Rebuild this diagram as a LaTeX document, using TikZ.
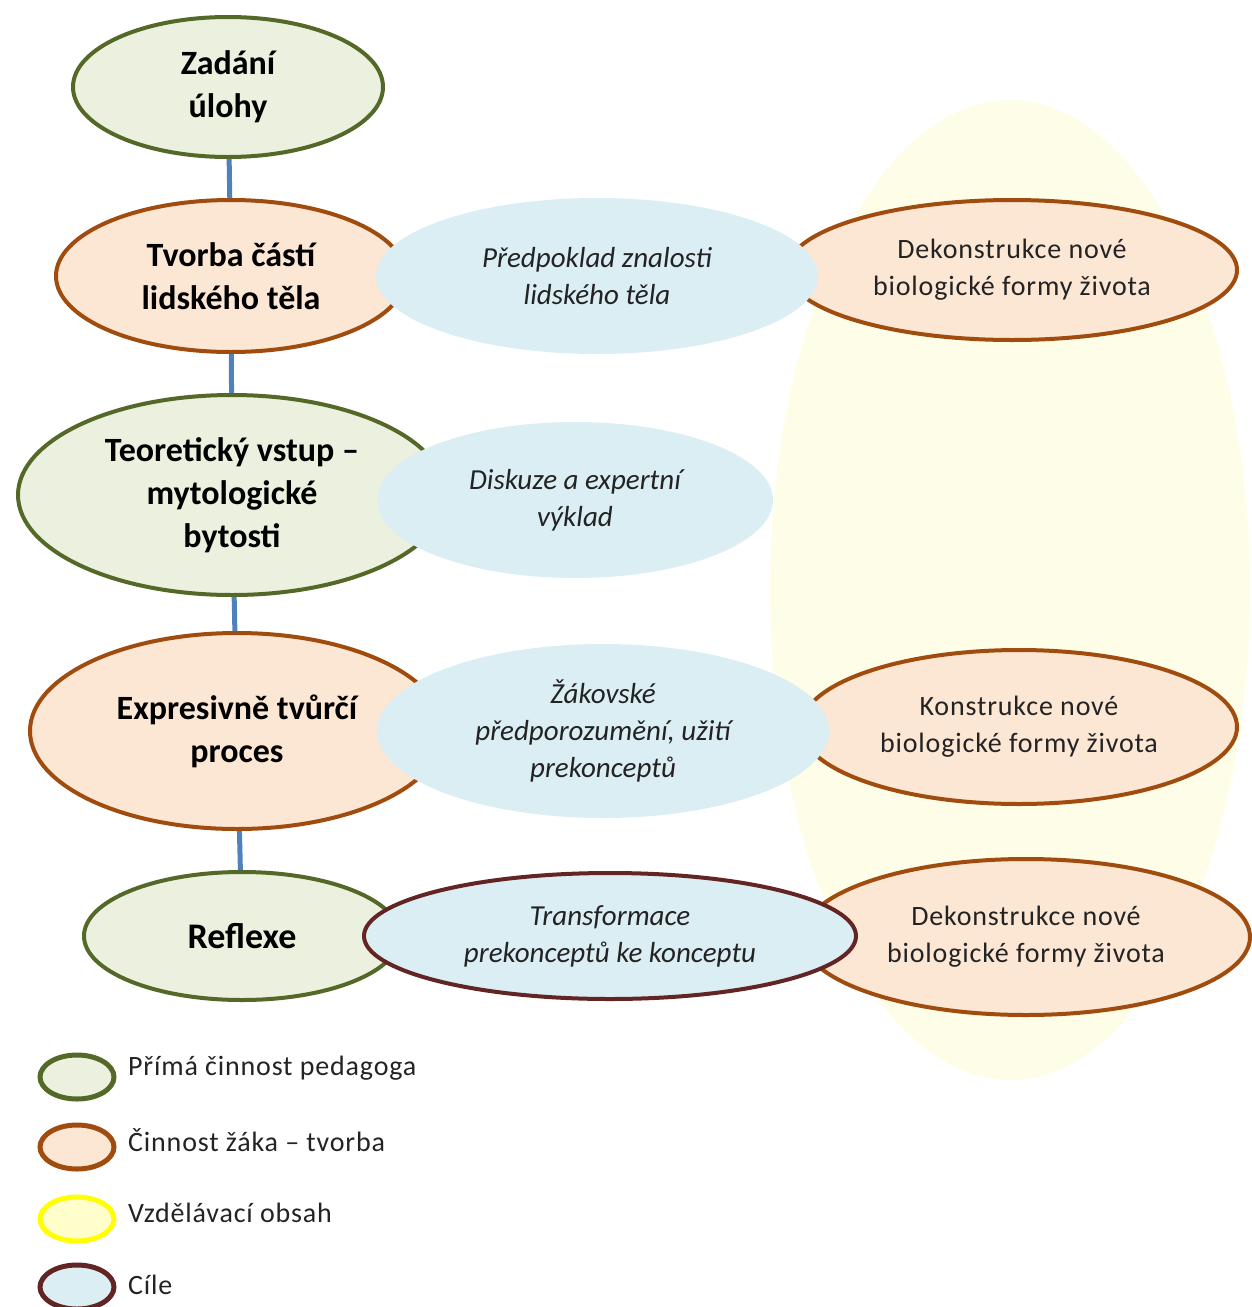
\documentclass[tikz,border=0pt]{standalone}
\usepackage{fontspec}
\setmainfont{Carlito}
\usetikzlibrary{shapes.geometric}
\definecolor{gline}{RGB}{84,104,40}
\definecolor{gfill}{RGB}{235,241,222}
\definecolor{oline}{RGB}{160,76,14}
\definecolor{ofill}{RGB}{252,230,212}
\definecolor{bfill}{RGB}{219,238,244}
\definecolor{rline}{RGB}{99,37,35}
\definecolor{ybg}{RGB}{254,254,232}
\definecolor{yline}{RGB}{255,255,0}
\definecolor{yfill}{RGB}{255,255,204}
\definecolor{conn}{RGB}{79,129,189}
\definecolor{itxt}{RGB}{35,35,35}
\begin{document}
\begin{tikzpicture}[x=1pt,y=-1pt,
  el/.style={ellipse, inner sep=0pt, align=center, line width=4pt},
  greenel/.style={el, draw=gline, fill=gfill, font=\fontsize{34}{43}\selectfont\bfseries},
  orangeel/.style={el, draw=oline, fill=ofill, font=\fontsize{34}{43}\selectfont\bfseries},
  rightel/.style={el, draw=oline, fill=ofill, text=itxt, font=\fontsize{28}{37}\selectfont\addfontfeature{LetterSpace=3}},
  blueel/.style={el, fill=bfill, text=itxt, font=\fontsize{29}{37}\selectfont\itshape},
  link/.style={draw=conn, line width=5pt},
  legel/.style={ellipse, inner sep=0pt, minimum width=74pt, minimum height=44pt, line width=5pt},
  legtxt/.style={anchor=west, inner sep=0pt, text=itxt, font=\fontsize{28}{33}\selectfont\addfontfeature{LetterSpace=3}}
]
\useasboundingbox (0,0) rectangle (1252,1307);
% background content ellipse
\node[ellipse, fill=ybg, inner sep=0pt, minimum width=480pt, minimum height=980pt] (content) at (1010,590) {};
% left column
\node[greenel, minimum width=310pt, minimum height=140pt] (a1) at (228,87) {Zadání\\úlohy};
\node[orangeel, minimum width=350pt, minimum height=152pt] (a2) at (231,276) {Tvorba částí\\lidského těla};
\node[greenel, minimum width=428pt, minimum height=200pt] (a3) at (232,495) {Teoretický vstup –\\mytologické\\bytosti};
\node[orangeel, minimum width=414pt, minimum height=196pt] (a4) at (237,731) {Expresivně tvůrčí\\proces};
\node[greenel, minimum width=316pt, minimum height=128pt, font=\fontsize{36}{43}\selectfont\bfseries] (a5) at (242,936) {Reflexe};
% right column
\node[rightel, minimum width=450pt, minimum height=140pt] (c1) at (1012,270) {Dekonstrukce nové\\biologické formy života};
\node[rightel, minimum width=436pt, minimum height=154pt] (c2) at (1019,727) {Konstrukce nové\\biologické formy života};
\node[rightel, minimum width=448pt, minimum height=156pt] (c3) at (1026,937) {Dekonstrukce nové\\biologické formy života};
% middle column (goals)
\node[blueel, minimum width=442pt, minimum height=156pt] (b1) at (597,276) {Předpoklad znalosti\\lidského těla};
\node[blueel, minimum width=396pt, minimum height=156pt] (b2) at (575,500) {Diskuze a expertní\\výklad};
\node[blueel, minimum width=452pt, minimum height=174pt] (b3) at (603,731) {Žákovské\\předporozumění, užití\\prekonceptů};
\node[blueel, draw=rline, minimum width=492pt, minimum height=126pt] (b4) at (610,936) {Transformace\\prekonceptů ke konceptu};
% connectors
\draw[link] (a1) -- (a2);
\draw[link] (a2) -- (a3);
\draw[link] (a3) -- (a4);
\draw[link] (a4) -- (a5);
% legend
\node[legel, draw=gline, fill=gfill] (l1) at (77,1077) {};
\node[legel, draw=oline, fill=ofill] (l2) at (77,1147) {};
\node[legel, draw=yline, fill=yfill] (l3) at (77,1219) {};
\node[legel, draw=rline, fill=bfill] (l4) at (77,1287) {};
\node[legtxt] (t1) at (128,1068) {Přímá činnost pedagoga};
\node[legtxt] (t2) at (128,1140) {Činnost žáka – tvorba};
\node[legtxt] (t3) at (128,1213) {Vzdělávací obsah};
\node[legtxt] (t4) at (128,1285) {Cíle};
\end{tikzpicture}
\end{document}
